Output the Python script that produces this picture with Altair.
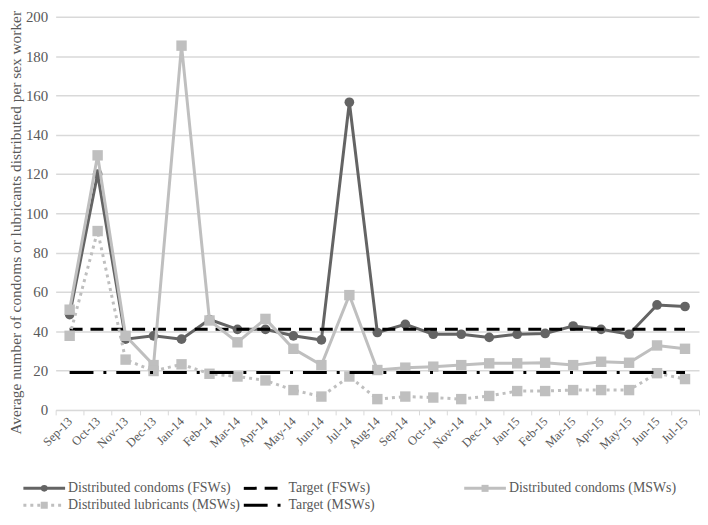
import altair as alt
import pandas as pd

# ---------------- data ----------------
months = ["Sep-13", "Oct-13", "Nov-13", "Dec-13", "Jan-14", "Feb-14", "Mar-14", "Apr-14",
          "May-14", "Jun-14", "Jul-14", "Aug-14", "Sep-14", "Oct-14", "Nov-14", "Dec-14",
          "Jan-15", "Feb-15", "Mar-15", "Apr-15", "May-15", "Jun-15", "Jul-15"]
fsw_condoms = [48.5, 120, 36, 37.7, 36, 46, 41, 41, 37.7, 35.6, 156.5, 39.4, 43.5, 38.5,
               38.5, 36.9, 38.5, 38.9, 42.7, 41, 38.5, 53.4, 52.6]
msw_condoms = [51, 129.5, 37.7, 22.8, 185.3, 45.5, 34.4, 46.3, 31.1, 22.8, 58.4, 20.3, 21.5,
               22, 22.8, 23.7, 23.7, 24, 22.8, 24.5, 24, 32.8, 31.1]
msw_lubricants = [37.7, 91, 25.6, 19.8, 23.2, 18.4, 17, 15, 10.1, 6.8, 17, 5.5, 6.8, 6.3,
                  5.5, 7.1, 9.6, 9.6, 10.1, 10.1, 10.1, 18.7, 15.7]
target_fsw = [41] * len(months)
target_msw = [19] * len(months)

series_names = ["Distributed condoms (FSWs)", "Target (FSWs)", "Distributed condoms (MSWs)",
                "Distributed lubricants (MSWs)", "Target (MSWs)"]
series_values = [fsw_condoms, target_fsw, msw_condoms, msw_lubricants, target_msw]

y_ticks = [0, 20, 40, 60, 80, 100, 120, 140, 160, 180, 200]

# ---------------- styles ----------------
FONT = "Liberation Serif"
TXT = "#595959"
GRID = "#d9d9d9"
styles = {
    series_names[0]: dict(color="#646464", dash=None, shape="circle", size=95, lsize=45),
    series_names[1]: dict(color="#000000", dash=[13, 8], shape=None),
    series_names[2]: dict(color="#bfbfbf", dash=None, shape="square", size=110, lsize=50),
    series_names[3]: dict(color="#bfbfbf", dash=[3, 4], shape="square", size=110, lsize=50),
    series_names[4]: dict(color="#000000", dash=[24, 10, 3, 10], shape=None),
}

rows = []
for name, vals in zip(series_names, series_values):
    for m, v in zip(months, vals):
        rows.append({"series": name, "month": m, "value": v})
df = pd.DataFrame(rows)

W, H = 648, 396

x_enc = alt.X("month:N", sort=months,
              scale=alt.Scale(type="band", paddingInner=0, paddingOuter=0),
              axis=alt.Axis(title=None, labelAngle=-45, labelAlign="right", labelBaseline="middle",
                            tickBand="extent", domainColor=GRID, tickColor=GRID, tickSize=5,
                            grid=False, labelFont=FONT, labelFontSize=12.5, labelColor=TXT,
                            labelPadding=4))
y_enc = alt.Y("value:Q", scale=alt.Scale(domain=[0, 200], nice=False),
              axis=alt.Axis(values=y_ticks, title="Average number of condoms or lubricants distributed per sex worker",
                            titleFont=FONT, titleFontSize=15.5, titleFontWeight="normal", titleColor=TXT,
                            titleY=207, titleX=-32,
                            labelFont=FONT, labelFontSize=15, labelColor=TXT, domain=False, ticks=False,
                            gridColor=GRID, gridWidth=1.5, labelPadding=8, titlePadding=2))

base = alt.Chart(df)
layers = []
for name in series_names:
    st = styles[name]
    line_kw = dict(color=st["color"], strokeWidth=3)
    if st["dash"]:
        line_kw["strokeDash"] = st["dash"]
    sub = base.transform_filter(alt.datum.series == name)
    layers.append(sub.mark_line(**line_kw).encode(x=x_enc, y=y_enc))
    if st["shape"]:
        layers.append(sub.mark_point(shape=st["shape"], filled=True, opacity=1, size=st["size"],
                                     color=st["color"]).encode(x=x_enc, y=y_enc))

main = alt.layer(*layers).properties(width=W, height=H)

# ---------------- legend panel ----------------
leg_sx = [23, 245, 467, 23, 245]
leg_row = [0, 0, 0, 1, 1]
SYM_W = 42
leg_df = pd.DataFrame({"series": series_names, "sx": leg_sx, "row": leg_row})
leg_df["ex"] = leg_df["sx"] + SYM_W
leg_df["mx"] = leg_df["sx"] + SYM_W / 2
leg_df["tx"] = leg_df["sx"] + SYM_W + 3

ORIGIN = 55.5
LH = 34
lx = alt.Scale(domain=[ORIGIN, ORIGIN + W])
ly = alt.Scale(domain=[0, 1], range=[9, 26])
lbase = alt.Chart(leg_df)
leg_layers = []
for name in series_names:
    st = styles[name]
    sub = lbase.transform_filter(alt.datum.series == name)
    rkw = dict(color=st["color"], strokeWidth=3)
    if st["dash"]:
        rkw["strokeDash"] = st["dash"]
    leg_layers.append(sub.mark_rule(**rkw).encode(
        x=alt.X("sx:Q", scale=lx, axis=None), x2="ex:Q",
        y=alt.Y("row:Q", scale=ly, axis=None)))
    if st["shape"]:
        leg_layers.append(sub.mark_point(shape=st["shape"], filled=True, opacity=1, size=st["lsize"],
                                         color=st["color"]).encode(
            x=alt.X("mx:Q", scale=lx, axis=None), y=alt.Y("row:Q", scale=ly, axis=None)))
    leg_layers.append(sub.mark_text(align="left", baseline="middle", font=FONT, fontSize=14,
                                    color=TXT).encode(
        x=alt.X("tx:Q", scale=lx, axis=None), y=alt.Y("row:Q", scale=ly, axis=None),
        text="series:N"))

legend = alt.layer(*leg_layers).properties(width=W, height=LH)

chart = alt.vconcat(main, legend, spacing=28).properties(
    padding={"left": 0, "top": 0, "right": 0, "bottom": 0}
).configure_view(stroke=None)

chart.save("out.html", embed_options={"renderer": "svg", "actions": False})
